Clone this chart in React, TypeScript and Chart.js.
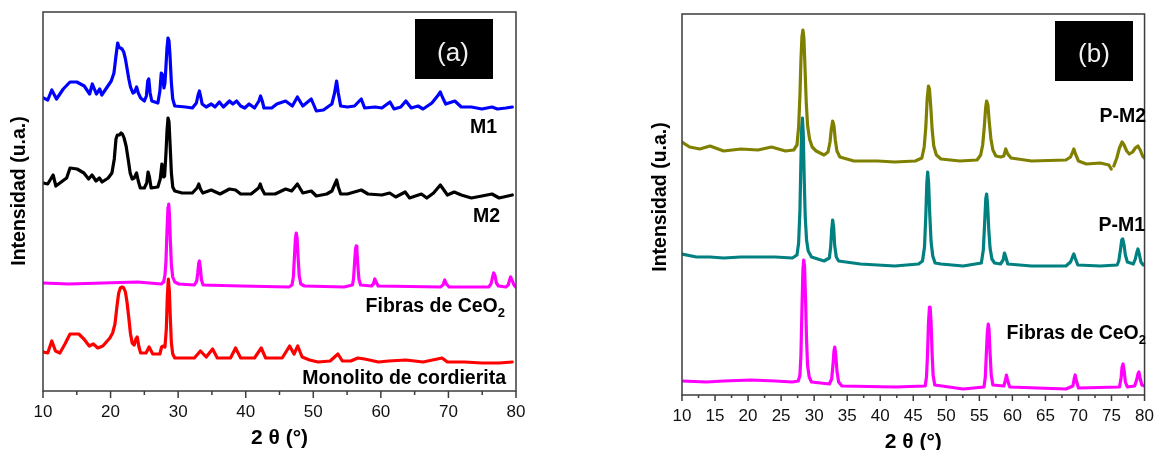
import React, { useEffect, useRef } from 'react';
import { Chart, registerables } from 'chart.js';

Chart.register(...registerables);

// ---------- data (2θ in degrees, intensity in arbitrary units) ----------
const X_TITLE = '2 θ (°)';
const Y_TITLE = 'Intensidad (u.a.)';

const TICKS_A = [10, 20, 30, 40, 50, 60, 70, 80];
const TICK_LABELS_A = ['10', '20', '30', '40', '50', '60', '70', '80'];
const MINOR_A = [15, 25, 35, 45, 55, 65, 75];

const TICKS_B = [10, 15, 20, 25, 30, 35, 40, 45, 50, 55, 60, 65, 70, 75, 80];
const TICK_LABELS_B = ['10', '15', '20', '25', '30', '35', '40', '45', '50', '55', '60', '65', '70', '75', '80'];
const MINOR_B = [12.5, 17.5, 22.5, 27.5, 32.5, 37.5, 42.5, 47.5, 52.5, 57.5, 62.5, 67.5, 72.5, 77.5];

const M1 = [[10.05,293],[10.7,291],[11.3,301],[12.0,292],[13.0,302],[14.0,309],[15.0,309],[16.1,305],[16.9,297],[17.3,307],[17.9,297],[18.4,302],[18.7,296],[19.4,303],[20.1,310],[20.5,318],[20.8,335],[21.05,348],[21.25,344],[21.45,343],[21.7,342],[21.95,339],[22.2,332],[22.45,322],[22.7,312],[22.95,304],[23.3,298],[23.55,299],[23.85,304],[24.1,298],[24.45,293],[25.0,290],[25.3,295],[25.5,310],[25.65,312],[25.85,298],[26.1,290],[27.0,288],[27.3,300],[27.5,318],[27.7,316],[27.9,303],[28.05,308],[28.2,325],[28.35,343],[28.5,353],[28.65,350],[28.8,335],[29.0,308],[29.2,292],[29.5,285],[31.1,284],[32.1,283],[32.7,288],[32.95,296],[33.15,300],[33.35,294],[33.55,287],[34.15,284],[34.9,287],[35.45,284],[36.1,289],[36.7,284],[37.6,290],[38.1,287],[38.65,290],[39.25,285],[39.85,283],[40.5,287],[41.3,283],[41.95,290],[42.2,295],[42.45,290],[42.7,283],[43.85,283],[44.6,287],[45.9,290],[46.9,285],[47.65,294],[48.45,285],[49.7,292],[50.45,280],[51.5,281],[52.75,287],[53.15,298],[53.45,310],[53.7,298],[54.05,285],[55.05,284],[56.1,285],[57.1,292],[57.6,283],[59.15,284],[60.15,283],[61.35,289],[61.95,282],[62.95,284],[63.7,290],[64.5,283],[65.5,285],[66.25,282],[67.55,288],[68.5,296],[68.8,299],[69.1,294],[69.6,287],[70.95,290],[71.9,284],[73.4,284],[74.95,282],[76.45,284],[77.25,282],[78.5,283],[79.45,284]];

const M2 = [[10.05,208],[10.7,207],[11.5,216],[11.9,205],[12.5,208],[13.5,213],[14.0,223],[15.05,222],[16.05,218],[16.75,212],[17.25,216],[17.85,210],[18.35,213],[18.75,209],[19.65,213],[20.2,218],[20.55,232],[20.8,252],[21.0,256],[21.3,256],[21.55,258],[21.75,257],[22.0,253],[22.3,245],[22.6,232],[22.9,218],[23.2,212],[23.5,213],[23.85,218],[24.1,210],[24.4,203],[25.0,203],[25.35,208],[25.55,219],[25.75,214],[26.0,203],[27.0,204],[27.35,212],[27.6,227],[27.85,214],[28.0,215],[28.2,238],[28.35,260],[28.5,273],[28.65,269],[28.8,248],[29.0,218],[29.2,204],[29.5,200],[30.6,198],[32.1,198],[32.8,203],[33.05,207],[33.3,202],[33.65,198],[34.9,201],[36.2,197],[37.6,202],[38.5,201],[39.25,197],[40.8,197],[41.9,203],[42.15,207],[42.4,202],[42.8,197],[44.35,197],[45.9,202],[46.8,200],[47.65,207],[48.45,198],[49.7,200],[50.45,195],[52.0,197],[52.75,200],[53.2,207],[53.45,211],[53.7,204],[54.05,197],[55.05,197],[57.1,201],[58.1,197],[60.15,196],[61.3,198],[62.2,194],[63.6,199],[64.25,193],[66.0,197],[66.8,193],[67.8,198],[68.8,206],[69.85,196],[70.85,199],[71.9,196],[73.4,193],[74.95,195],[76.45,197],[77.5,193],[79.45,196]];

const FIBRAS_A = [[10.05,108],[13.8,107],[18.9,108],[24.0,109],[27.5,107],[27.85,109],[28.05,116],[28.2,130],[28.35,160],[28.5,184],[28.6,187],[28.7,178],[28.85,150],[29.0,126],[29.2,114],[29.5,109],[30.1,107],[32.4,106],[32.75,110],[32.9,118],[33.05,128],[33.15,130],[33.3,122],[33.45,111],[33.7,106],[39.3,105],[46.4,104],[46.85,106],[47.05,114],[47.2,133],[47.35,152],[47.48,158],[47.6,153],[47.75,134],[47.92,115],[48.15,107],[48.7,105],[54.55,104],[55.8,106],[55.95,112],[56.1,127],[56.25,142],[56.35,145],[56.45,141],[56.6,125],[56.75,112],[57.0,106],[58.6,105],[58.9,107],[59.1,112],[59.3,109],[59.6,105],[68.8,104],[69.2,106],[69.45,111],[69.7,107],[70.1,104],[75.95,104],[76.3,107],[76.5,113],[76.7,118],[76.9,115],[77.1,108],[77.4,105],[78.5,104],[78.85,106],[79.05,111],[79.2,114],[79.4,111],[79.7,106],[79.95,104]];

const MONOLITO = [[10.05,39],[10.7,38],[11.3,50],[11.85,40],[12.5,38],[13.25,47],[14.0,57],[15.3,57],[16.05,52],[16.85,45],[17.45,47],[18.1,43],[18.85,45],[19.9,53],[20.3,58],[20.65,67],[20.95,85],[21.2,98],[21.45,103],[21.7,104],[21.95,103],[22.2,99],[22.45,88],[22.7,73],[22.95,57],[23.2,48],[23.5,46],[23.75,52],[23.95,54],[24.2,44],[24.45,38],[25.25,38],[25.7,44],[26.25,37],[27.3,37],[27.55,44],[27.75,45],[28.05,44],[28.25,62],[28.4,95],[28.55,112],[28.7,100],[28.85,72],[29.0,48],[29.2,37],[29.5,33],[31.1,33],[32.4,33],[33.3,40],[34.15,34],[35.1,42],[35.8,33],[37.75,33],[38.5,43],[39.25,33],[41.3,33],[42.3,43],[42.95,33],[45.4,33],[46.5,45],[47.15,37],[47.7,45],[48.35,34],[49.45,31],[50.7,29],[52.5,30],[53.65,37],[54.3,30],[55.55,30],[56.6,33],[57.6,32],[59.65,29],[61.15,30],[63.7,31],[66.25,29],[69.05,33],[69.85,29],[72.4,29],[74.95,28],[77.5,28],[79.45,29]];

const P_M2 = [[10.0,253],[11.15,248],[12.7,246],[14.25,249],[16.3,244],[18.9,246],[21.5,245],[23.55,248],[25.65,244],[26.9,245],[27.4,250],[27.65,268],[27.85,300],[28.0,335],[28.15,358],[28.3,365],[28.45,357],[28.6,330],[28.8,293],[29.0,270],[29.3,256],[29.7,248],[30.3,244],[31.5,240],[32.1,243],[32.4,253],[32.6,266],[32.8,274],[33.0,269],[33.2,255],[33.45,244],[33.9,238],[36.0,234],[39.6,234],[42.2,233],[45.3,234],[46.3,237],[46.65,248],[46.9,268],[47.1,296],[47.3,309],[47.45,306],[47.65,288],[47.85,266],[48.1,249],[48.5,240],[49.2,236],[52.05,234],[54.65,235],[55.2,240],[55.5,250],[55.75,268],[55.95,287],[56.1,294],[56.3,290],[56.5,273],[56.75,256],[57.05,245],[57.5,239],[58.25,238],[58.7,239],[59.0,246],[59.3,241],[59.8,237],[62.9,234],[68.1,235],[68.8,238],[69.05,242],[69.3,246],[69.55,241],[70.0,234],[71.2,231],[73.3,232],[74.6,230],[74.95,226],[75.15,null],[75.35,229],[75.8,237],[76.2,247],[76.6,253],[76.9,250],[77.3,244],[77.7,241],[78.2,243],[78.6,247],[79.0,249],[79.35,245],[79.7,239],[80.0,237]];

const P_M1 = [[10.0,141],[12.2,138],[14.25,138],[16.3,137],[18.9,138],[21.5,138],[24.1,138],[26.7,137],[27.4,140],[27.65,152],[27.85,185],[28.0,235],[28.12,268],[28.22,277],[28.35,262],[28.5,215],[28.65,178],[28.85,155],[29.1,144],[29.6,138],[31.5,134],[32.3,137],[32.5,148],[32.65,165],[32.8,175],[32.95,168],[33.1,150],[33.35,138],[33.7,134],[37.0,131],[42.2,129],[45.8,131],[46.4,134],[46.7,148],[46.9,180],[47.05,212],[47.18,223],[47.32,212],[47.5,180],[47.7,153],[47.95,139],[48.3,132],[49.2,131],[52.55,129],[55.3,132],[55.6,145],[55.8,172],[55.97,196],[56.1,201],[56.25,190],[56.42,166],[56.62,147],[56.9,136],[57.3,132],[58.2,131],[58.6,135],[58.8,142],[59.0,138],[59.3,131],[62.9,129],[68.1,129],[68.8,133],[69.1,138],[69.3,141],[69.5,137],[69.9,130],[73.3,129],[75.85,130],[76.1,134],[76.35,145],[76.55,155],[76.7,156],[76.9,150],[77.1,140],[77.4,133],[78.3,131],[78.6,136],[78.85,143],[79.0,146],[79.2,141],[79.45,133],[79.8,130],[80.0,130]];

const FIBRAS_B = [[10.0,14],[13.7,13],[16.3,14],[20.45,15],[24.1,14],[26.7,13],[27.6,14],[27.85,20],[28.0,40],[28.15,85],[28.3,125],[28.42,135],[28.55,128],[28.7,95],[28.85,55],[29.0,30],[29.25,18],[29.6,13],[32.3,11],[32.65,16],[32.85,30],[33.0,44],[33.12,48],[33.27,40],[33.45,24],[33.7,13],[34.2,9],[42.2,8],[46.8,9],[47.0,18],[47.15,40],[47.3,72],[47.45,88],[47.55,88],[47.7,72],[47.85,42],[48.0,20],[48.25,10],[52.55,6],[55.7,8],[55.9,18],[56.05,40],[56.2,62],[56.35,71],[56.47,65],[56.62,42],[56.8,20],[57.05,10],[58.7,9],[58.95,15],[59.1,20],[59.3,14],[59.6,8],[68.1,6],[69.15,9],[69.35,16],[69.5,20],[69.7,14],[70.0,7],[76.2,8],[76.45,17],[76.6,28],[76.75,31],[76.9,25],[77.1,13],[77.4,8],[78.5,9],[78.8,15],[79.0,21],[79.15,23],[79.35,16],[79.6,10],[80.0,9]];

// ---------- styling ----------
const FONT = '"Liberation Sans", Arial, Helvetica, sans-serif';
const FRAME = '#3c3c3c';

const PANEL_A = {
  width: 560,
  left: 0,
  padding: { left: 43, right: 44, top: 12, bottom: 0 },
  xAxisHeight: 59,
  tickPad: 11,
  yMax: 379,
  ticks: TICKS_A,
  tickLabels: TICK_LABELS_A,
  minor: MINOR_A,
  majorLen: 7,
  minorLen: 4,
  xTitleBaseline: 444,
  yTitle: { x: 20, y: 191 },
  series: [
    { data: M1, color: '#0000ff' },
    { data: M2, color: '#000000' },
    { data: FIBRAS_A, color: '#ff00ff' },
    { data: MONOLITO, color: '#ff0000' },
  ],
  labels: [
    { text: 'M1', right: 497, base: 133 },
    { text: 'M2', right: 500, base: 222 },
    { text: 'Fibras de CeO', sub: '2', right: 505, base: 311.5 },
    { text: 'Monolito de cordierita', right: 506, base: 384 },
  ],
  tag: { text: '(a)', x: 415, y: 19, w: 78, h: 60, cx: 453, base: 61 },
};

const PANEL_B = {
  width: 565,
  left: 600,
  padding: { left: 82, right: 10, top: 14, bottom: 0 },
  xAxisHeight: 55,
  tickPad: 11,
  yMax: 381,
  ticks: TICKS_B,
  tickLabels: TICK_LABELS_B,
  minor: MINOR_B,
  majorLen: 6,
  minorLen: 3,
  xTitleBaseline: 448,
  yTitle: { x: 61, y: 197 },
  series: [
    { data: P_M2, color: '#808000' },
    { data: P_M1, color: '#008080' },
    { data: FIBRAS_B, color: '#ff00ff' },
  ],
  labels: [
    { text: 'P-M2', right: 546, base: 122 },
    { text: 'P-M1', right: 545, base: 231 },
    { text: 'Fibras de CeO', sub: '2', right: 546, base: 339 },
  ],
  tag: { text: '(b)', x: 455, y: 21, w: 78, h: 60, cx: 494, base: 62 },
};

function decorPlugin(p: any) {
  return {
    id: 'decor',
    afterDraw(chart: any) {
      const { ctx, chartArea: ca } = chart;
      const xs = chart.scales.x;
      ctx.save();
      ctx.strokeStyle = FRAME;
      ctx.lineWidth = 1.5;
      ctx.strokeRect(ca.left, ca.top, ca.right - ca.left, ca.bottom - ca.top);
      ctx.beginPath();
      p.ticks.forEach((v: number) => {
        const px = xs.getPixelForValue(v);
        ctx.moveTo(px, ca.bottom);
        ctx.lineTo(px, ca.bottom + p.majorLen);
      });
      p.minor.forEach((v: number) => {
        const px = xs.getPixelForValue(v);
        ctx.moveTo(px, ca.bottom);
        ctx.lineTo(px, ca.bottom + p.minorLen);
      });
      ctx.stroke();
      ctx.fillStyle = '#000';
      ctx.textAlign = 'center';
      ctx.textBaseline = 'alphabetic';
      ctx.font = `bold 21px ${FONT}`;
      ctx.fillText(X_TITLE, (ca.left + ca.right) / 2, p.xTitleBaseline);
      ctx.save();
      ctx.translate(p.yTitle.x, p.yTitle.y);
      ctx.rotate(-Math.PI / 2);
      ctx.textBaseline = 'middle';
      ctx.font = `bold 19.5px ${FONT}`;
      ctx.fillText(Y_TITLE, 0, 0);
      ctx.restore();
      ctx.textAlign = 'left';
      ctx.textBaseline = 'alphabetic';
      p.labels.forEach((l: any) => {
        ctx.font = `bold 13px ${FONT}`;
        const ws = l.sub ? ctx.measureText(l.sub).width : 0;
        ctx.font = `bold 19.5px ${FONT}`;
        const wm = ctx.measureText(l.text).width;
        ctx.fillText(l.text, l.right - ws - wm, l.base);
        if (l.sub) {
          ctx.font = `bold 13px ${FONT}`;
          ctx.fillText(l.sub, l.right - ws, l.base + 5);
        }
      });
      const t = p.tag;
      ctx.fillStyle = '#000';
      ctx.fillRect(t.x, t.y, t.w, t.h);
      ctx.fillStyle = '#f0f0f0';
      ctx.textAlign = 'center';
      ctx.font = `26px ${FONT}`;
      ctx.fillText(t.text, t.cx, t.base);
      ctx.restore();
    },
  };
}

function makeConfig(p: any): any {
  return {
    type: 'scatter',
    data: {
      datasets: p.series.map((s: any) => ({
        data: s.data.map(([x, y]: any) => ({ x, y })),
        borderColor: s.color,
        backgroundColor: s.color,
        borderWidth: 3.2,
        showLine: true,
        pointRadius: 0,
        pointHoverRadius: 0,
        fill: false,
        tension: 0,
        spanGaps: false,
        borderJoinStyle: 'round',
        borderCapStyle: 'round',
      })),
    },
    options: {
      responsive: false,
      animation: false,
      devicePixelRatio: 1,
      events: [],
      layout: { padding: p.padding },
      plugins: { legend: { display: false }, tooltip: { enabled: false }, title: { display: false } },
      scales: {
        x: {
          type: 'linear',
          min: 10,
          max: 80,
          grid: { display: false, drawTicks: false },
          border: { display: false },
          afterBuildTicks: (s: any) => {
            s.ticks = p.ticks.map((v: number) => ({ value: v }));
          },
          afterFit: (s: any) => {
            s.height = p.xAxisHeight;
          },
          ticks: {
            autoSkip: false,
            maxRotation: 0,
            minRotation: 0,
            padding: p.tickPad,
            color: '#111',
            font: { family: FONT, size: 17 },
            callback: (_v: any, i: number) => p.tickLabels[i],
          },
        },
        y: { type: 'linear', display: false, min: 0, max: p.yMax },
      },
    },
    plugins: [decorPlugin(p)],
  };
}

function Panel({ p }: { p: any }) {
  const ref = useRef<HTMLCanvasElement | null>(null);
  useEffect(() => {
    if (!ref.current) return;
    const chart = new Chart(ref.current, makeConfig(p));
    return () => chart.destroy();
  }, [p]);
  return (
    <canvas
      ref={ref}
      width={p.width}
      height={450}
      style={{ position: 'absolute', left: p.left, top: 0, width: p.width, height: 450 }}
    />
  );
}

export default function App() {
  return (
    <div style={{ position: 'fixed', left: 0, top: 0, width: 1165, height: 450, background: '#fff', overflow: 'hidden' }}>
      <Panel p={PANEL_A} />
      <Panel p={PANEL_B} />
    </div>
  );
}
